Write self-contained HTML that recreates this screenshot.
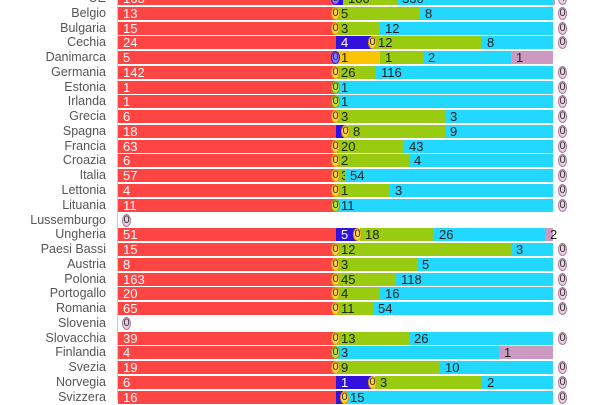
<!DOCTYPE html>
<html><head><meta charset="utf-8"><style>
body{margin:0;background:#fff;width:600px;height:400px;overflow:hidden;position:relative;font-family:"Liberation Sans",sans-serif}
.l{position:absolute;right:494px;font-size:12.5px;color:#555;white-space:nowrap;line-height:14px}
.s{position:absolute;height:13px}
.t{position:absolute;font-size:13px;line-height:13px;color:#222}
.z{position:absolute;width:9px;height:13px;border-radius:50%;border:1.5px solid;box-sizing:border-box;font-size:11px;line-height:10px;text-align:center;color:#333}
#ax{position:absolute;left:117px;top:0;width:1px;height:400px;background:#ccc}
</style></head><body><div id="ax"></div>
<script>
const R='#ff4444',B='#3311dd',O='#ffc400',G='#99cc11',C='#22d8ff',P='#cc99c0';
const zc={B:['#3311dd','#8877ff'],O:['#e0a000','#ffd040'],G:['#88aa00','#bbdd44'],P:['#aa77a0','#e8d0e0']};
const rows=[
['UE','163',[[336,343,B,''],[343,397,G,'100'],[397,553,C,'330'],[553,555,P,'']],[[335,'B']],'4'],
['Belgio','13',[[337,420,G,'5'],[420,553,C,'8']],[[335,'O']],'0'],
['Bulgaria','15',[[337,380,G,'3'],[380,553,C,'12']],[[335,'O']],'0'],
['Cechia','24',[[336,373,B,'4'],[373,482,G,'12'],[482,553,C,'8']],[[372,'O']],'0'],
['Danimarca','5',[[337,380,O,'1'],[380,423,G,'1'],[423,511,C,'2'],[511,553,P,'1']],[[335,'B']],''],
['Germania','142',[[337,376,G,'26'],[376,553,C,'116']],[[335,'O']],'0'],
['Estonia','1',[[337,553,C,'1']],[[335,'G']],'0'],
['Irlanda','1',[[337,553,C,'1']],[[335,'G']],'0'],
['Grecia','6',[[337,445,G,'3'],[445,553,C,'3']],[[335,'O']],'0'],
['Spagna','18',[[336,344,B,'1'],[348,445,G,'8'],[445,553,C,'9']],[[345,'O']],'0'],
['Francia','63',[[337,404,G,'20'],[404,553,C,'43']],[[335,'O']],'0'],
['Croazia','6',[[337,409,G,'2'],[409,553,C,'4']],[[335,'O']],'0'],
['Italia','57',[[337,345,G,'3'],[345,553,C,'54']],[[335,'O']],'0'],
['Lettonia','4',[[337,390,G,'1'],[390,553,C,'3']],[[335,'O']],'0'],
['Lituania','11',[[337,553,C,'11']],[[335,'G']],'0'],
['Lussemburgo',null,[],[],'L'],
['Ungheria','51',[[336,358,B,'5'],[360,434,G,'18'],[434,545,C,'26'],[545,553,P,'2']],[[357,'O']],''],
['Paesi Bassi','15',[[337,511,G,'12'],[511,553,C,'3']],[[335,'O']],'0'],
['Austria','8',[[337,417,G,'3'],[417,553,C,'5']],[[335,'O']],'0'],
['Polonia','163',[[337,396,G,'45'],[396,553,C,'118']],[[335,'O']],'0'],
['Portogallo','20',[[337,380,G,'4'],[380,553,C,'16']],[[335,'O']],'0'],
['Romania','65',[[337,373,G,'11'],[373,553,C,'54']],[[335,'O']],'0'],
['Slovenia',null,[],[],'L'],
['Slovacchia','39',[[337,409,G,'13'],[409,553,C,'26']],[[335,'O']],'0'],
['Finlandia','4',[[337,499,C,'3'],[499,553,P,'1']],[[335,'G']],''],
['Svezia','19',[[337,440,G,'9'],[440,553,C,'10']],[[335,'O']],'0'],
['Norvegia','6',[[336,373,B,'1'],[375,482,G,'3'],[482,553,C,'2']],[[372,'O']],'0'],
['Svizzera','16',[[336,343,B,'1'],[345,553,C,'15']],[[344,'O']],'0']];
let h='';
rows.forEach((r,i)=>{
 const y=Math.round(-9+i*14.77);
 h+=`<div class="l" style="top:${y}px">${r[0]}</div>`;
 if(r[1]!==null){
  h+=`<div class="s" style="left:118px;top:${y+1}px;width:218px;background:${R}"></div><div class="t" style="left:123px;top:${y+1}px;color:#fff">${r[1]}</div>`;
 }
 r[2].forEach(s=>{h+=`<div class="s" style="left:${s[0]}px;top:${y+1}px;width:${s[1]-s[0]}px;background:${s[2]}"></div>`;
  if(s[3])h+=`<div class="t" style="left:${s[0]+(s[0]==337?4:5)}px;top:${y+1}px;color:${s[2]==B?'#fff':'#222'}">${s[3]}</div>`;});
 r[3].forEach(z=>{const c=zc[z[1]];h+=`<div class="z" style="left:${z[0]-4}px;top:${y+1}px;border-color:${c[0]};background:${c[1]}">0</div>`;});
 if(r[4]==='L'){const c=zc.P;h+=`<div class="z" style="left:122px;top:${y+1}px;border-color:${c[0]};background:${c[1]}">0</div>`;}
 else if(r[4]){const c=zc.P;h+=`<div class="z" style="left:558px;top:${y+1}px;border-color:${c[0]};background:${c[1]}">${r[4]}</div>`;}
});
document.body.insertAdjacentHTML('beforeend',h);
</script></body></html>
